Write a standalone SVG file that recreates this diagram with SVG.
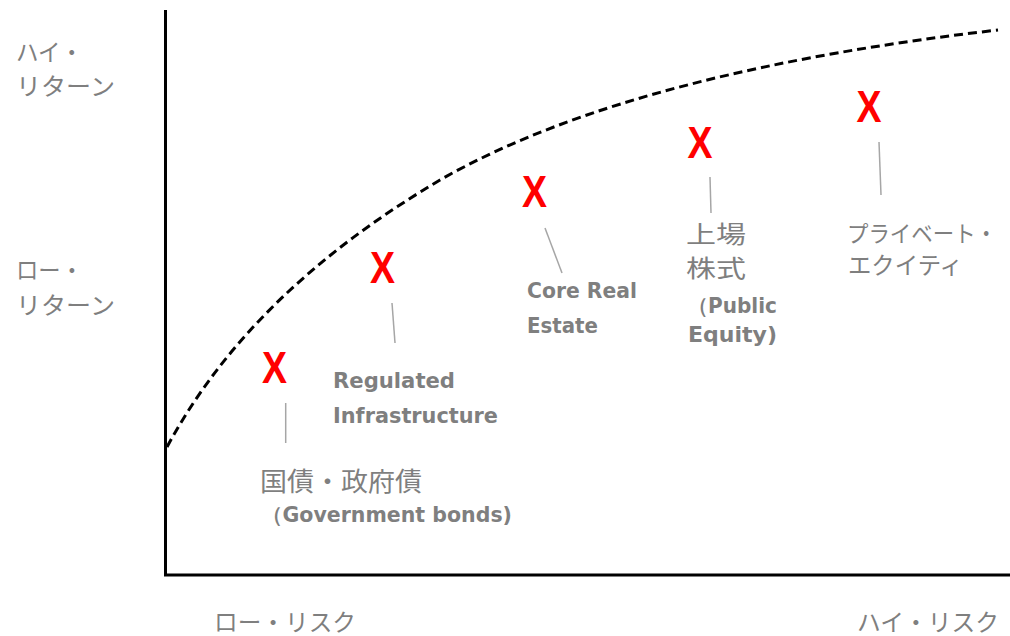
<svg xmlns="http://www.w3.org/2000/svg" width="1010" height="636" viewBox="0 0 1010 636">
<style>
.jp{font-family:"Noto Sans CJK JP","Noto Sans",sans-serif;fill:#7f7f7f;font-size:24px}
.en{font-family:"DejaVu Sans","Liberation Sans",sans-serif;font-weight:bold;fill:#7f7f7f;font-size:21px}
.mk{font-family:"Liberation Sans",Arial,sans-serif;font-weight:bold;fill:#ff0000;font-size:45px;text-anchor:middle}
.ld{stroke:#a6a6a6;stroke-width:1.5;fill:none}
</style>
<rect width="1010" height="636" fill="#ffffff"/>
<g id="axes">
<path d="M165.5,10 V575 H1010" fill="none" stroke="#000" stroke-width="3"/>
</g>
<g id="axis-labels">
<text class="jp" x="16" y="61" textLength="67" lengthAdjust="spacingAndGlyphs">ハイ・</text>
<text class="jp" x="16" y="95" textLength="99" lengthAdjust="spacingAndGlyphs">リターン</text>
<text class="jp" x="16" y="279" textLength="67" lengthAdjust="spacingAndGlyphs">ロー・</text>
<text class="jp" x="16" y="314" textLength="99" lengthAdjust="spacingAndGlyphs">リターン</text>
<text class="jp" x="214" y="631" textLength="142" lengthAdjust="spacingAndGlyphs">ロー・リスク</text>
<text class="jp" x="857" y="631" textLength="142" lengthAdjust="spacingAndGlyphs">ハイ・リスク</text>
</g>
<g id="connectors">
<path id="curve" d="M167,447 C230,330 330,245 440,180 C580,100 780,55 998,30" fill="none" stroke="#000" stroke-width="3" stroke-dasharray="9,5"/>
<line class="ld" x1="285.7" y1="403" x2="285.7" y2="443"/>
<line class="ld" x1="392" y1="303" x2="395" y2="343"/>
<line class="ld" x1="545" y1="228" x2="562" y2="273"/>
<line class="ld" x1="710" y1="177" x2="711" y2="213"/>
<line class="ld" x1="879" y1="142" x2="881" y2="195"/>
</g>
<g id="node-bonds">
<text class="mk" x="274.5" y="383" textLength="25" lengthAdjust="spacingAndGlyphs">X</text>
<text class="jp" x="260" y="491" style="font-size:26px" textLength="162" lengthAdjust="spacingAndGlyphs">国債・政府債</text>
<text class="en" x="262" y="522" textLength="250" lengthAdjust="spacingAndGlyphs">（Government bonds)</text>
</g>
<g id="node-infra">
<text class="mk" x="382.5" y="283" textLength="25" lengthAdjust="spacingAndGlyphs">X</text>
<text class="en" x="333" y="388" textLength="122" lengthAdjust="spacingAndGlyphs">Regulated</text>
<text class="en" x="333" y="423" textLength="165" lengthAdjust="spacingAndGlyphs">Infrastructure</text>
</g>
<g id="node-realestate">
<text class="mk" x="534.5" y="207" textLength="25" lengthAdjust="spacingAndGlyphs">X</text>
<text class="en" x="527" y="298" textLength="110" lengthAdjust="spacingAndGlyphs">Core Real</text>
<text class="en" x="527" y="333" textLength="71" lengthAdjust="spacingAndGlyphs">Estate</text>
</g>
<g id="node-equity">
<text class="mk" x="700" y="158" textLength="25" lengthAdjust="spacingAndGlyphs">X</text>
<text class="jp" x="686" y="243" textLength="60" lengthAdjust="spacingAndGlyphs">上場</text>
<text class="jp" x="686" y="277" textLength="60" lengthAdjust="spacingAndGlyphs">株式</text>
<text class="en" x="688" y="313" textLength="89" lengthAdjust="spacingAndGlyphs">（Public</text>
<text class="en" x="688" y="342" textLength="89" lengthAdjust="spacingAndGlyphs">Equity)</text>
</g>
<g id="node-pe">
<text class="mk" x="869" y="122" textLength="25" lengthAdjust="spacingAndGlyphs">X</text>
<text class="jp" x="847" y="242" style="font-size:23px" textLength="150" lengthAdjust="spacingAndGlyphs">プライベート・</text>
<text class="jp" x="848" y="274" textLength="115" lengthAdjust="spacingAndGlyphs">エクイティ</text>
</g>
</svg>
